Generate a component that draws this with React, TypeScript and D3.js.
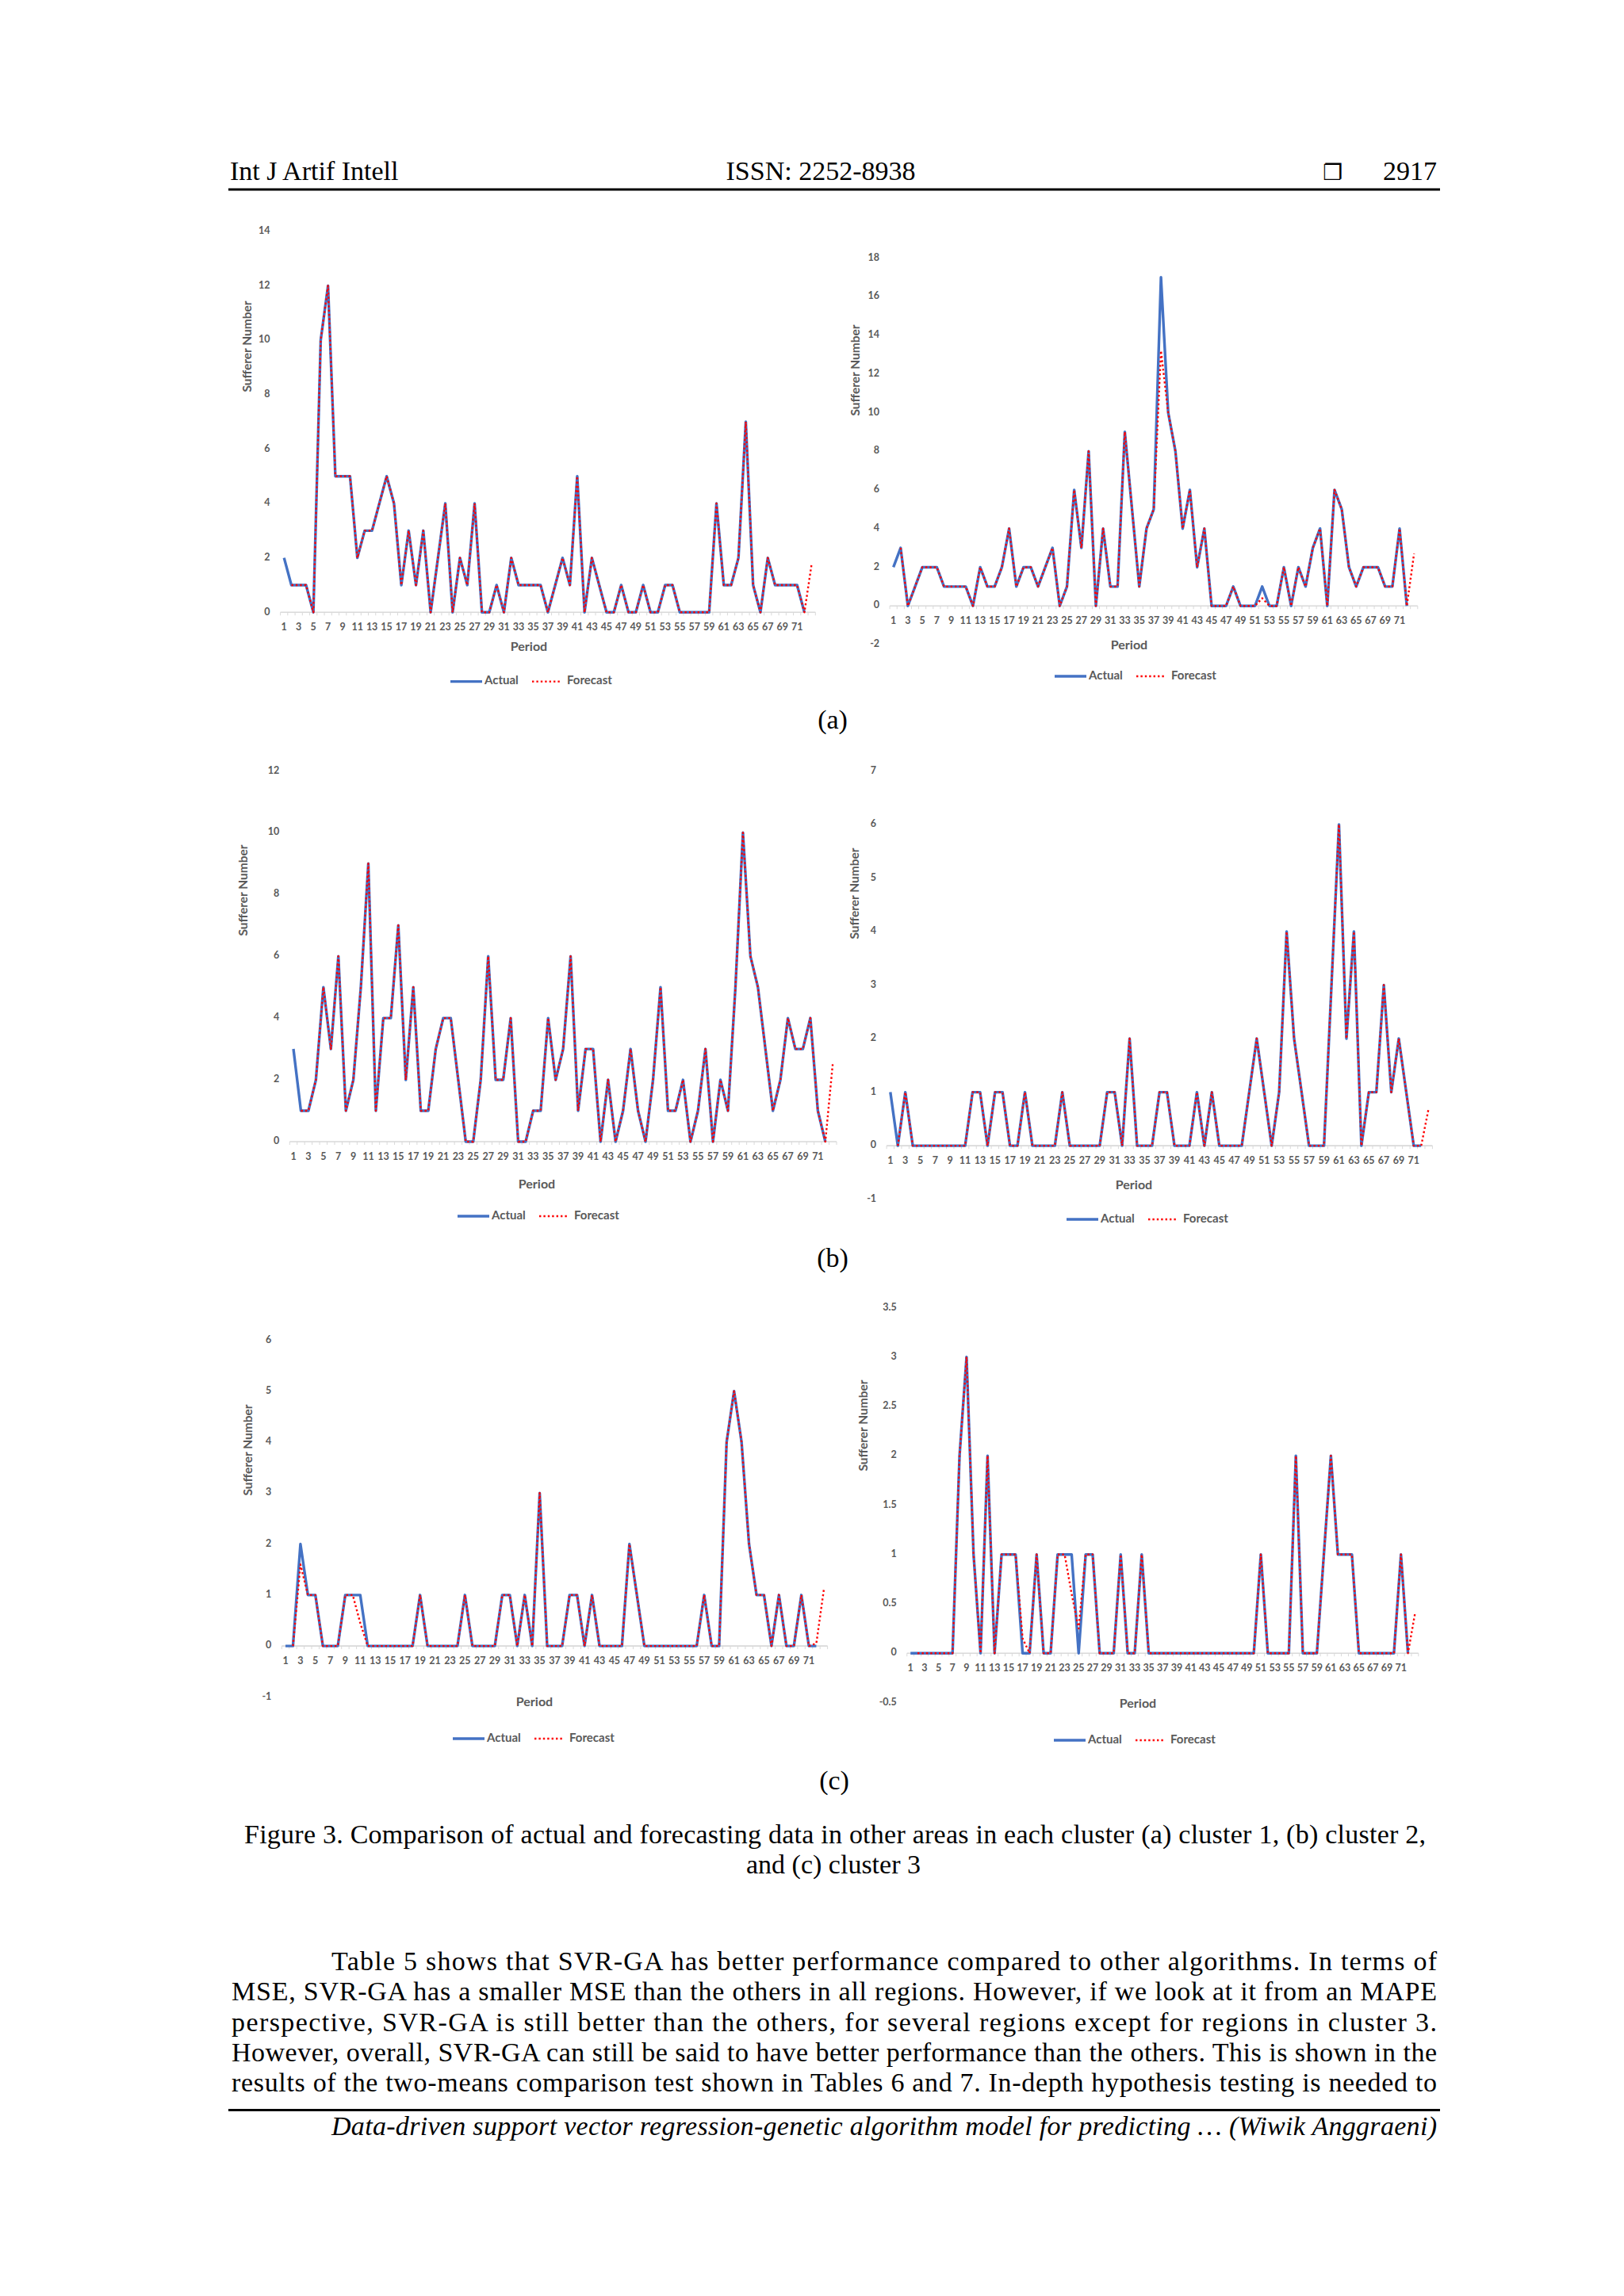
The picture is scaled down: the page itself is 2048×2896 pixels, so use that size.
import React from 'react';
import * as d3 from 'd3';

// ---------------- DATA ----------------
const periods = [1,2,3,4,5,6,7,8,9,10,11,12,13,14,15,16,17,18,19,20,21,22,23,24,25,26,27,28,29,30,31,32,33,34,35,36,37,38,39,40,41,42,43,44,45,46,47,48,49,50,51,52,53,54,55,56,57,58,59,60,61,62,63,64,65,66,67,68,69,70,71,72,73];
const xTickLabels = [1,3,5,7,9,11,13,15,17,19,21,23,25,27,29,31,33,35,37,39,41,43,45,47,49,51,53,55,57,59,61,63,65,67,69,71];

// (a) cluster 1 - left
const a1Actual = [2,1,1,1,0,10,12,5,5,5, 2,3,3,4,5,4,1,3,1,3, 0,2,4,0,2,1,4,0,0,1, 0,2,1,1,1,1,0,1,2,1, 5,0,2,1,0,0,1,0,0,1, 0,0,1,1,0,0,0,0,0,4, 1,1,2,7,1,0,2,1,1,1, 1,0];
const a1Forecast = [null,1,1,1,0,10,12,5,5,5, 2,3,3,4,5,4,1,3,1,3, 0,2,4,0,2,1,4,0,0,1, 0,2,1,1,1,1,0,1,2,1, 5,0,2,1,0,0,1,0,0,1, 0,0,1,1,0,0,0,0,0,4, 1,1,2,7,1,0,2,1,1,1, 1,0,1.8];
const a1YTicks = [0,2,4,6,8,10,12,14];

// (a) cluster 1 - right
const a2Actual = [2,3,0,1,2,2,2,1,1,1, 1,0,2,1,1,2,4,1,2,2, 1,2,3,0,1,6,3,8,0,4, 1,1,9,5,1,4,5,17,10,8, 4,6,2,4,0,0,0,1,0,0, 0,1,0,0,2,0,2,1,3,4, 0,6,5,2,1,2,2,2,1,1, 4,0];
const a2Forecast = [null,3,0,1,2,2,2,1,1,1, 1,0,2,1,1,2,4,1,2,2, 1,2,3,0,1,6,3,8,0,4, 1,1,9,5,1,4,5,13.2,10,8, 4,6,2,4,0,0,0,1,0,0, 0,0.4,0,0,2,0,2,1,3,4, 0,6,5,2,1,2,2,2,1,1, 4,0,2.7];
const a2YTicks = [-2,0,2,4,6,8,10,12,14,16,18];

// (b) cluster 2 - left
const b1Actual = [3,1,1,2,5,3,6,1,2,5, 9,1,4,4,7,2,5,1,1,3, 4,4,2,0,0,2,6,2,2,4, 0,0,1,1,4,2,3,6,1,3, 3,0,2,0,1,3,1,0,2,5, 1,1,2,0,1,3,0,2,1,5, 10,6,5,3,1,2,4,3,3,4, 1,0];
const b1Forecast = [null,1,1,2,5,3,6,1,2,5, 9,1,4,4,7,2,5,1,1,3, 4,4,2,0,0,2,6,2,2,4, 0,0,1,1,4,2,3,6,1,3, 3,0,2,0,1,3,1,0,2,5, 1,1,2,0,1,3,0,2,1,5, 10,6,5,3,1,2,4,3,3,4, 1,0,2.55];
const b1YTicks = [0,2,4,6,8,10,12];

// (b) cluster 2 - right
const b2Actual = [1,0,1,0,0,0,0,0,0,0, 0,1,1,0,1,1,0,0,1,0, 0,0,0,1,0,0,0,0,0,1, 1,0,2,0,0,0,1,1,0,0, 0,1,0,1,0,0,0,0,1,2, 1,0,1,4,2,1,0,0,0,3, 6,2,4,0,1,1,3,1,2,1, 0,0];
const b2Forecast = [null,0,1,0,0,0,0,0,0,0, 0,1,1,0,1,1,0,0,1,0, 0,0,0,1,0,0,0,0,0,1, 1,0,2,0,0,0,1,1,0,0, 0,1,0,1,0,0,0,0,1,2, 1,0,1,4,2,1,0,0,0,3, 6,2,4,0,1,1,3,1,2,1, 0,0,0.7];
const b2YTicks = [-1,0,1,2,3,4,5,6,7];

// (c) cluster 3 - left
const c1Actual = [0,0,2,1,1,0,0,0,1,1, 1,0,0,0,0,0,0,0,1,0, 0,0,0,0,1,0,0,0,0,1, 1,0,1,0,3,0,0,0,1,1, 0,1,0,0,0,0,2,1,0,0, 0,0,0,0,0,0,1,0,0,4, 5,4,2,1,1,0,1,0,0,1, 0,0];
const c1Forecast = [null,0,1.6,1,1,0,0,0,1,1, 0.45,0,0,0,0,0,0,0,1,0, 0,0,0,0,1,0,0,0,0,1, 1,0,1,0,3,0,0,0,1,1, 0,1,0,0,0,0,2,1,0,0, 0,0,0,0,0,0,1,0,0,4, 5,4,2,1,1,0,1,0,0,1, 0,0.05,1.1];
const c1YTicks = [-1,0,1,2,3,4,5,6];

// (c) cluster 3 - right
const c2Actual = [0,0,0,0,0,0,0,2,3,1, 0,2,0,1,1,1,0,0,1,0, 0,1,1,1,0,1,1,0,0,0, 1,0,0,1,0,0,0,0,0,0, 0,0,0,0,0,0,0,0,0,0, 1,0,0,0,0,2,0,0,0,1, 2,1,1,1,0,0,0,0,0,0, 1,0];
const c2Forecast = [null,0,0,0,0,0,0,2,3,1, 0,2,0,1,1,1,0.15,0,1,0, 0,1,1,0.6,0.25,1,1,0,0,0, 1,0,0,1,0,0,0,0,0,0, 0,0,0,0,0,0,0,0,0,0, 1,0,0,0,0,2,0,0,0,1, 2,1,1,1,0,0,0,0,0,0, 1,0,0.4];
const c2YTicks = [-0.5,0,0.5,1,1.5,2,2.5,3,3.5];

const legendLabels = ['Actual', 'Forecast'];
const axisTitleX = 'Period';
const axisTitleY = 'Sufferer Number';

// ---------------- LAYOUT ----------------
type Panel = {
  actual: (number | null)[];
  forecast: (number | null)[];
  yTicks: number[];
  x0: number; x1: number; yBottom: number; yTop: number;
  yTitle: [number, number];
  xTitle: [number, number];
  legend: [number, number];
};

const panels: Panel[] = [
  { actual: a1Actual, forecast: a1Forecast, yTicks: a1YTicks, x0: 353.6, x1: 1028.3, yBottom: 772.3, yTop: 291.8, yTitle: [313, 437], xTitle: [667, 817], legend: [568, 859.6] },
  { actual: a2Actual, forecast: a2Forecast, yTicks: a2YTicks, x0: 1122.1, x1: 1787.8, yBottom: 813, yTop: 325.3, yTitle: [1080, 467], xTitle: [1424, 815], legend: [1330, 853] },
  { actual: b1Actual, forecast: b1Forecast, yTicks: b1YTicks, x0: 365.3, x1: 1055.0, yBottom: 1440, yTop: 972.3, yTitle: [308, 1123], xTitle: [677, 1495], legend: [577, 1534] },
  { actual: b2Actual, forecast: b2Forecast, yTicks: b2YTicks, x0: 1118.1, x1: 1806.4, yBottom: 1512.7, yTop: 972.3, yTitle: [1079, 1127], xTitle: [1430, 1496], legend: [1345, 1538] },
  { actual: c1Actual, forecast: c1Forecast, yTicks: c1YTicks, x0: 355.3, x1: 1043.6, yBottom: 2140.4, yTop: 1690.4, yTitle: [314, 1829], xTitle: [674, 2148], legend: [571, 2193] },
  { actual: c2Actual, forecast: c2Forecast, yTicks: c2YTicks, x0: 1143.8, x1: 1788.8, yBottom: 2147.5, yTop: 1649.3, yTitle: [1090, 1798], xTitle: [1435, 2150], legend: [1329, 2195] },
];

const GREY = '#5a5a5a';
const BLUE = '#4472C4';
const RED = '#FF0000';
const CHART_FONT = 'Lato, "Open Sans", sans-serif';
const SERIF = '"Liberation Serif", "Times New Roman", serif';

function Chart({ p }: { p: Panel }) {
  const x = d3.scaleLinear().domain([0.5, periods.length + 0.5]).range([p.x0, p.x1]);
  const y = d3.scaleLinear().domain([p.yTicks[0], p.yTicks[p.yTicks.length - 1]]).range([p.yBottom, p.yTop]);
  const line = d3
    .line<[number, number | null]>()
    .defined((d) => d[1] != null)
    .x((d) => x(d[0]))
    .y((d) => y(d[1] as number));
  const actualPts = p.actual.map((v, i) => [periods[i], v] as [number, number | null]);
  const forecastPts = p.forecast.map((v, i) => [periods[i], v] as [number, number | null]);
  const y0 = y(0);
  const boundaries = d3.range(0, periods.length + 1).map((i) => i + 0.5);
  const [lx, ly] = p.legend;
  return (
    <g>
      {/* y tick labels */}
      {p.yTicks.map((t) => (
        <text key={'yt' + t} x={p.x0 - 13} y={y(t)} textAnchor="end" dominantBaseline="middle"
          fontFamily={CHART_FONT} fontWeight={700} fontSize={12.5} fill={GREY}>{String(t)}</text>
      ))}
      {/* category axis */}
      <line x1={p.x0} x2={p.x1} y1={y0} y2={y0} stroke="#d9d9d9" strokeWidth={1.6} />
      {boundaries.map((b) => (
        <line key={'tk' + b} x1={x(b)} x2={x(b)} y1={y0} y2={y0 + 4} stroke="#d9d9d9" strokeWidth={1} />
      ))}
      {xTickLabels.map((t) => (
        <text key={'xt' + t} x={x(t)} y={y0 + 23} textAnchor="middle"
          fontFamily={CHART_FONT} fontWeight={700} fontSize={12.5} fill={GREY}>{String(t)}</text>
      ))}
      {/* series */}
      <path d={line(actualPts) || ''} fill="none" stroke={BLUE} strokeWidth={3.4} strokeLinejoin="round" />
      <path d={line(forecastPts) || ''} fill="none" stroke={RED} strokeWidth={2.4} strokeDasharray="2.4 3" strokeLinejoin="round" />
      {/* axis titles */}
      <text x={p.xTitle[0]} y={p.xTitle[1]} textAnchor="middle" dominantBaseline="middle"
        fontFamily={CHART_FONT} fontWeight={700} fontSize={16} fill={GREY}>{axisTitleX}</text>
      <text transform={`translate(${p.yTitle[0]},${p.yTitle[1]}) rotate(-90)`} textAnchor="middle" dominantBaseline="middle"
        fontFamily={CHART_FONT} fontWeight={700} fontSize={15.5} fill={GREY}>{axisTitleY}</text>
      {/* legend */}
      <line x1={lx} x2={lx + 40} y1={ly} y2={ly} stroke={BLUE} strokeWidth={3.4} />
      <text x={lx + 43} y={ly} dominantBaseline="middle" fontFamily={CHART_FONT} fontWeight={700} fontSize={15} fill={GREY}>{legendLabels[0]}</text>
      <line x1={lx + 103} x2={lx + 140} y1={ly} y2={ly} stroke={RED} strokeWidth={2.4} strokeDasharray="2.4 3" />
      <text x={lx + 147} y={ly} dominantBaseline="middle" fontFamily={CHART_FONT} fontWeight={700} fontSize={15} fill={GREY}>{legendLabels[1]}</text>
    </g>
  );
}

const paragraph = [
  { text: 'Table 5 shows that SVR-GA has better performance compared to other algorithms. In terms of', x: 418, y: 2485 },
  { text: 'MSE, SVR-GA has a smaller MSE than the others in all regions. However, if we look at it from an MAPE', x: 292, y: 2523.3 },
  { text: 'perspective, SVR-GA is still better than the others, for several regions except for regions in cluster 3.', x: 292, y: 2561.7 },
  { text: 'However, overall, SVR-GA can still be said to have better performance than the others. This is shown in the', x: 292, y: 2600 },
  { text: 'results of the two-means comparison test shown in Tables 6 and 7. In-depth hypothesis testing is needed to', x: 292, y: 2638.3 },
];

export default function App() {
  const fs = 34;
  return (
    <svg width={2048} height={2896} viewBox="0 0 2048 2896"
      style={{ position: 'absolute', left: 0, top: 0, display: 'block', background: '#fff' }}>
      <rect x={0} y={0} width={2048} height={2896} fill="#fff" />
      {/* header */}
      <text x={290} y={227} fontFamily={SERIF} fontSize={fs} fill="#000">Int J Artif Intell</text>
      <text x={1035} y={227} textAnchor="middle" fontFamily={SERIF} fontSize={fs} fill="#000">ISSN: 2252-8938</text>
      <text x={1668} y={227} fontFamily='"DejaVu Sans", sans-serif' fontSize={28} fill="#000">❐</text>
      <text x={1812} y={227} textAnchor="end" fontFamily={SERIF} fontSize={fs} fill="#000">2917</text>
      <line x1={288} x2={1816} y1={239} y2={239} stroke="#000" strokeWidth={3} />

      {panels.map((p, i) => <Chart key={i} p={p} />)}

      <text x={1050} y={919} textAnchor="middle" fontFamily={SERIF} fontSize={fs} fill="#000">(a)</text>
      <text x={1050} y={1598} textAnchor="middle" fontFamily={SERIF} fontSize={fs} fill="#000">(b)</text>
      <text x={1052} y={2257} textAnchor="middle" fontFamily={SERIF} fontSize={fs} fill="#000">(c)</text>

      {/* caption */}
      <text x={1053} y={2325} textAnchor="middle" fontFamily={SERIF} fontSize={fs} fill="#000"
        textLength={1490} lengthAdjust="spacing">Figure 3. Comparison of actual and forecasting data in other areas in each cluster (a) cluster 1, (b) cluster 2,</text>
      <text x={1051} y={2363} textAnchor="middle" fontFamily={SERIF} fontSize={fs} fill="#000">and (c) cluster 3</text>

      {/* paragraph */}
      {paragraph.map((l, i) => (
        <text key={i} x={l.x} y={l.y} fontFamily={SERIF} fontSize={fs} fill="#000"
          textLength={1812 - l.x} lengthAdjust="spacing">{l.text}</text>
      ))}

      {/* footer */}
      <line x1={288} x2={1816} y1={2661.5} y2={2661.5} stroke="#000" strokeWidth={3} />
      <text x={418} y={2693} fontFamily={SERIF} fontStyle="italic" fontSize={fs} fill="#000"
        textLength={1394} lengthAdjust="spacing">Data-driven support vector regression-genetic algorithm model for predicting … (Wiwik Anggraeni)</text>
    </svg>
  );
}
